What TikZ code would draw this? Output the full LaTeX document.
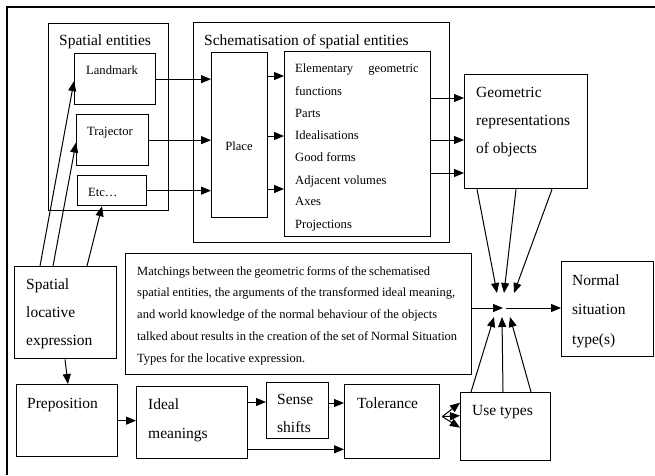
\documentclass[tikz,border=0pt]{standalone}
\usepackage{fontspec}
\setmainfont{Liberation Serif}
\usetikzlibrary{arrows.meta,calc}
\newcommand\matfont{\fontsize{12.5}{15}\selectfont\spaceskip=0.12em plus 1em\relax}
\newcommand\mline[2]{\makebox[#1pt][s]{#2}}
\begin{document}
\begin{tikzpicture}[x=1pt,y=-1pt,
  box/.style={draw,line width=1.3pt,anchor=north west,inner sep=0pt},
  big/.style={anchor=mid west,inner sep=0pt,font=\fontsize{15.5}{18}\selectfont},
  small/.style={anchor=mid west,inner sep=0pt,font=\fontsize{12.6}{15}\selectfont},
  mtext/.style={anchor=mid west,inner sep=0pt,font=\matfont},
  arr/.style={line width=1pt,-{Triangle[length=10pt,width=8pt]}}]
\useasboundingbox (0,0) rectangle (655,475);
% outer frame (partly visible)
\draw[line width=1.3pt] (7,475) -- (7,7) -- (655,7);
% boxes
\node[box,minimum width=120,minimum height=187] (se) at (48,23) {};
\node[box,minimum width=81,minimum height=51] (lm) at (74,53) {};
\node[box,minimum width=72,minimum height=51] (tr) at (76,114) {};
\node[box,minimum width=69,minimum height=30] (etc) at (77,175) {};
\node[box,minimum width=256,minimum height=220] (sch) at (193,22) {};
\node[box,minimum width=56,minimum height=165] (place) at (211,52) {};
\node[box,minimum width=146,minimum height=185] (list) at (284,51) {};
\node[box,minimum width=123,minimum height=114] (geo) at (464,74) {};
\node[box,minimum width=102,minimum height=92] (sle) at (14,266) {};
\node[box,minimum width=346,minimum height=121] (mat) at (125,253) {};
\node[box,minimum width=92,minimum height=95] (norm) at (561,261) {};
\node[box,minimum width=101,minimum height=72] (prep) at (16,384) {};
\node[box,minimum width=111,minimum height=72] (ideal) at (136,386) {};
\node[box,minimum width=62,minimum height=56] (sense) at (266,382) {};
\node[box,minimum width=95,minimum height=74] (tol) at (344,384) {};
\node[box,minimum width=90,minimum height=68] (use) at (460,392) {};
\coordinate (j) at (504,308);
% texts
\node[big] (t1) at (59,43) {Spatial entities};
\node[big] (t2) at (204,43) {Schematisation of spatial entities};
\node[small] (t3) at (86,72) {Landmark};
\node[small] (t4) at (87,133) {Trajector};
\node[small] (t5) at (88,194) {Etc…};
\node[small,anchor=mid] (t6) at (239,148) {Place};
\node[small] (l1) at (295,70) {Elementary};
\node[small,anchor=mid east] (l1b) at (419,70) {geometric};
\node[small] (l2) at (295,93) {functions};
\node[small] (l3) at (295,115) {Parts};
\node[small] (l4) at (295,137) {Idealisations};
\node[small] (l5) at (295,159) {Good forms};
\node[small] (l6) at (295,182) {Adjacent volumes};
\node[small] (l7) at (295,203) {Axes};
\node[small] (l8) at (295,226) {Projections};
\node[big] (g1) at (476,95) {Geometric};
\node[big] (g2) at (476,123) {representations};
\node[big] (g3) at (476,151) {of objects};
\node[big] (s1) at (26,287) {Spatial};
\node[big] (s2) at (26,315) {locative};
\node[big] (s3) at (26,343) {expression};
\node[mtext] (m1) at (137,273) {\mline{293}{Matchings between the geometric forms of the schematised}};
\node[mtext] (m2) at (137,294) {\mline{318}{spatial entities, the arguments of the transformed ideal meaning,}};
\node[mtext] (m3) at (137,316) {\mline{300}{and world knowledge of the normal behaviour of the objects}};
\node[mtext] (m4) at (137,338) {\mline{320}{talked about results in the creation of the set of Normal Situation}};
\node[mtext] (m5) at (137,360) {\mline{168}{Types for the locative expression.}};
\node[big] (n1) at (572,283) {Normal};
\node[big] (n2) at (572,312) {situation};
\node[big] (n3) at (572,342) {type(s)};
\node[big] (p1) at (27,406) {Preposition};
\node[big] (i1) at (148,407) {Ideal};
\node[big] (i2) at (148,436) {meanings};
\node[big] (ss1) at (277,402) {Sense};
\node[big] (ss2) at (277,430) {shifts};
\node[big] (to1) at (357,406) {Tolerance};
\node[big] (u1) at (472,413) {Use types};
% connectors
\draw[arr] (lm.east) -- (lm.east -| place.west);
\draw[arr] (tr.east) -- (tr.east -| place.west);
\draw[arr] (etc.east) -- (etc.east -| place.west);
\draw[arr] ([yshift=-24pt]place.north east) -- ([yshift=-24pt]place.north east -| list.west);
\draw[arr] ([yshift=-84pt]place.north east) -- ([yshift=-84pt]place.north east -| list.west);
\draw[arr] ([yshift=-137pt]place.north east) -- ([yshift=-137pt]place.north east -| list.west);
\draw[arr] ([yshift=-47pt]list.north east) -- ([yshift=-47pt]list.north east -| geo.west);
\draw[arr] ([yshift=-89pt]list.north east) -- ([yshift=-89pt]list.north east -| geo.west);
\draw[arr] ([yshift=-122pt]list.north east) -- ([yshift=-122pt]list.north east -| geo.west);
\draw[arr] ([xshift=13pt]geo.south west) -- ($(j)+(-7,-15)$);
\draw[arr] ([xshift=52pt]geo.south west) -- ($(j)+(0,-15)$);
\draw[arr] ([xshift=88pt]geo.south west) -- ($(j)+(10,-15)$);
\draw[arr] (mat.east |- j) -- ($(j)+(-1,0)$);
\draw[arr] ($(j)+(2,0)$) -- (j -| norm.west);
\draw[arr] ([xshift=11pt]use.north west) -- ($(j)+(-10,9)$);
\draw[arr] ([xshift=43pt]use.north west) -- ($(j)+(-2,9)$);
\draw[arr] ([xshift=71pt]use.north west) -- ($(j)+(6,9)$);
\coordinate (tp) at ($(tol.east)+(2,-5)$);
\draw[arr] (tp) -- ([yshift=19pt]tol.east -| use.west);
\draw[arr] (tp) -- ([yshift=6pt]tol.east -| use.west);
\draw[arr] (tp) -- ([yshift=-6pt]tol.east -| use.west);
\draw[arr] ([yshift=-21pt]sense.north east) -- ([yshift=-21pt]sense.north east -| tol.west);
\draw[arr] ([yshift=-16pt]ideal.north east) -- ([yshift=-16pt]ideal.north east -| sense.west);
\draw[arr] ([yshift=10pt]ideal.south east) -- ([yshift=10pt]ideal.south east -| tol.west);
\draw[arr] (prep.east) -- (prep.east -| ideal.west);
\draw[arr] ([xshift=51pt]sle.south west) -- ([xshift=54pt]sle.north west |- prep.north);
\draw[arr] ([xshift=26pt]sle.north west) -- ([yshift=-2pt]lm.west);
\draw[arr] ([xshift=39pt]sle.north west) -- ([yshift=-2.5pt]tr.west);
\draw[arr] ([xshift=73pt]sle.north west) -- ([xshift=25pt]etc.south west);
\end{tikzpicture}
\end{document}
